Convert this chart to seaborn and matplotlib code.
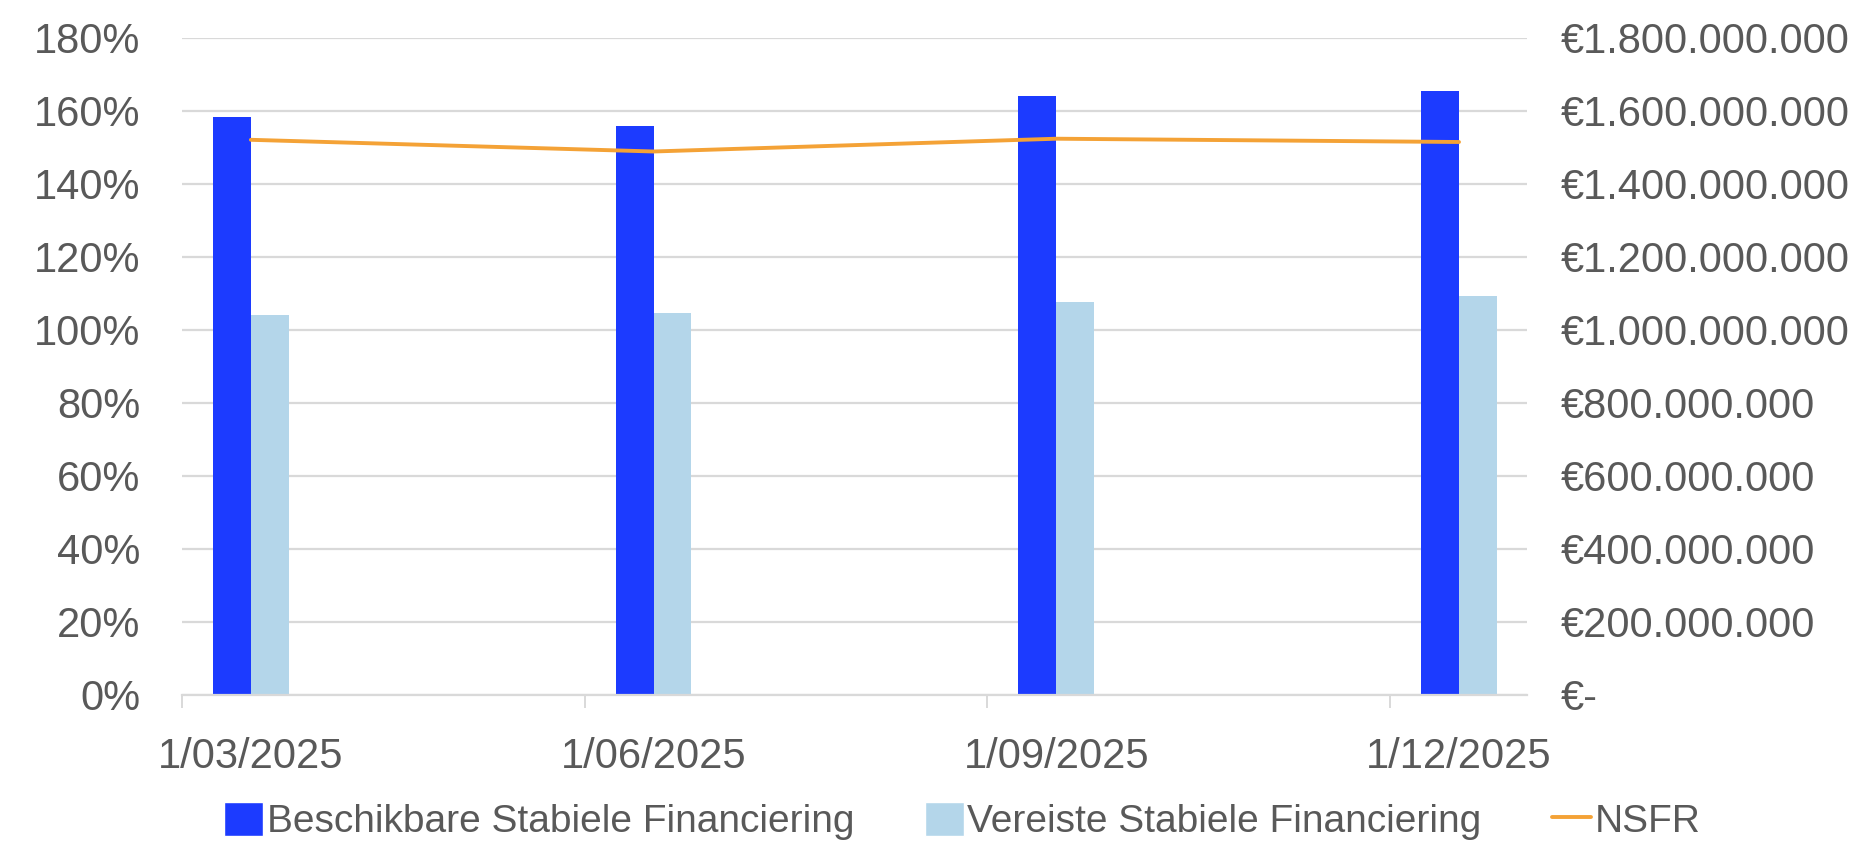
import numpy as np
import pandas as pd
import seaborn as sns
import matplotlib.pyplot as plt
from matplotlib.lines import Line2D
from matplotlib.patches import Patch
from matplotlib.ticker import FuncFormatter

# Data
dates = ["1/03/2025", "1/06/2025", "1/09/2025", "1/12/2025"]
beschikbaar = [1.583e9, 1.559e9, 1.640e9, 1.654e9]
vereist = [1.041e9, 1.047e9, 1.076e9, 1.092e9]
nsfr = [152.1, 148.9, 152.4, 151.5]

series_names = ["Beschikbare Stabiele Financiering", "Vereiste Stabiele Financiering"]
dark_blue = "#1c3bff"
light_blue = "#b4d6ea"
orange = "#f4a236"
grid_grey = "#d9d9d9"
text_grey = "#595959"

sns.set_theme(style="white")
plt.rcParams["font.family"] = ["Liberation Sans", "DejaVu Sans"]

df = pd.DataFrame({
    "Datum": dates * 2,
    "Bedrag": beschikbaar + vereist,
    "Reeks": [series_names[0]] * 4 + [series_names[1]] * 4,
})

fig = plt.figure(figsize=(18.65, 8.42), dpi=100)
ax = fig.add_axes([0.0976, 0.1746, 0.7212, 0.7803])

# bars on the euro axis (shown on the right)
sns.barplot(data=df, x="Datum", y="Bedrag", hue="Reeks",
            palette=[dark_blue, light_blue], width=0.188, gap=0,
            saturation=1, linewidth=0, ax=ax, legend=False, zorder=2)
ax.set_ylim(0, 1.8e9)
ax.set_yticks(np.arange(0, 1.8e9 + 1, 2e8))
ax.set_xlim(-0.171, 3.169)
ax.yaxis.set_major_formatter(FuncFormatter(
    lambda v, p: "€-" if v == 0 else "€" + f"{v:,.0f}".replace(",", ".")))
ax.grid(axis="y", color=grid_grey, linewidth=1.6, zorder=0)
ax.set_axisbelow(True)
ax.set_xlabel("")
ax.set_ylabel("")

# NSFR line on the percent axis (shown on the left)
ax2 = ax.twinx()
sns.lineplot(x=np.arange(len(dates)), y=nsfr, color=orange, linewidth=2.8, ax=ax2)
ax2.set_ylim(0, 180)
ax2.set_yticks(np.arange(0, 181, 20))
ax2.yaxis.set_major_formatter(FuncFormatter(lambda v, p: f"{v:.0f}%"))
ax2.set_ylabel("")

# swap sides: euros right, percent left
ax.yaxis.tick_right()
ax2.yaxis.tick_left()

for a in (ax, ax2):
    for s in a.spines.values():
        s.set_visible(False)
ax.spines["bottom"].set_visible(True)
ax.spines["bottom"].set_color(grid_grey)
ax.spines["bottom"].set_linewidth(1.6)

ax.tick_params(axis="y", length=0, pad=24, labelsize=30, labelcolor=text_grey)
ax2.tick_params(axis="y", length=0, pad=30, labelsize=30, labelcolor=text_grey)
ax.tick_params(axis="x", length=0, pad=30, labelsize=30, labelcolor=text_grey)
ax.set_xticks(np.arange(-0.171, 3.0, 1.0), minor=True)
ax.tick_params(axis="x", which="minor", length=9, width=1.4, color=grid_grey,
               direction="out", bottom=True)

handles = [
    Patch(facecolor=dark_blue, label=series_names[0]),
    Patch(facecolor=light_blue, label=series_names[1]),
    Line2D([0], [0], color=orange, linewidth=2.8, label="NSFR"),
]
fig.legend(handles=handles, loc="center", bbox_to_anchor=(0.516, 0.025), ncol=3,
           frameon=False, fontsize=28, labelcolor=text_grey, handlelength=1.0,
           handleheight=1.0, handletextpad=0.1, columnspacing=1.8)

fig.savefig("out.png", dpi=100, facecolor="white")
